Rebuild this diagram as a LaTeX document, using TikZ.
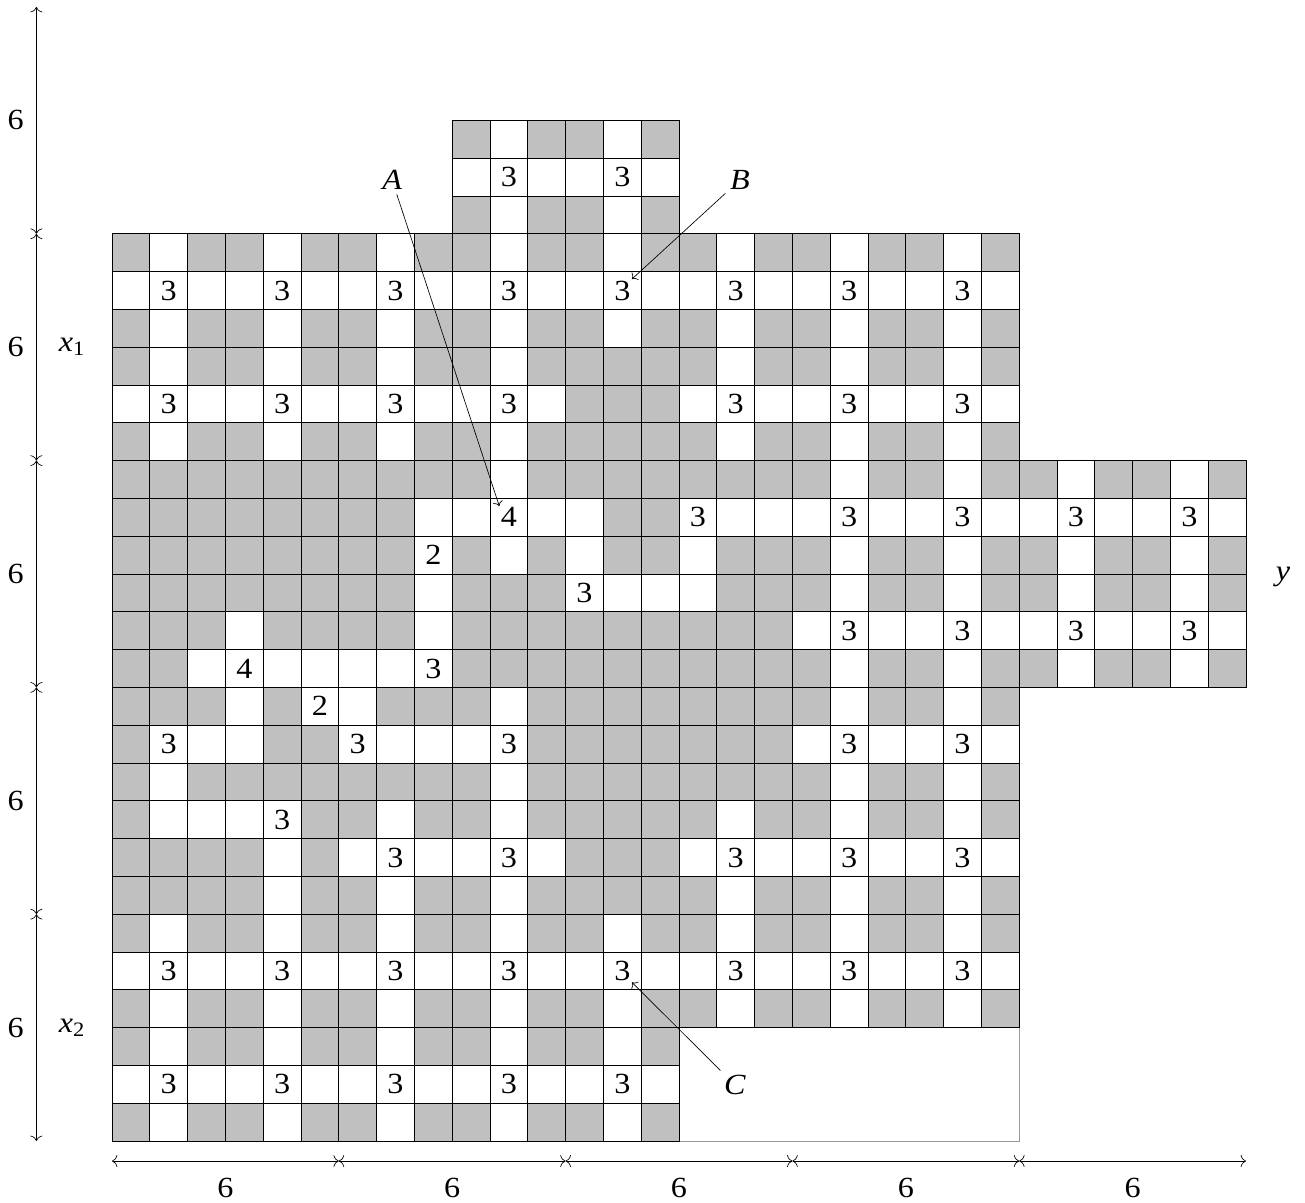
\documentclass[tikz,border=0pt]{standalone}
\usepackage{fontspec}
\setmainfont{Liberation Serif}[FakeStretch=1.1]
\usetikzlibrary{arrows.meta}
\definecolor{cellgray}{RGB}{192,192,192}
\begin{document}
\begin{tikzpicture}[x=1cm,y=1cm,
  wcell/.style={draw=black,line width=0.7pt},
  num/.style={inner sep=1pt,font=\fontsize{22}{26}\selectfont},
  lbl/.style={font=\fontsize{22}{26}\selectfont\itshape},
  dimtxt/.style={inner sep=0pt,font=\fontsize{22}{26}\selectfont},
  dimline/.style={{To[length=4pt,width=9pt]}-{To[length=4pt,width=9pt]},line width=0.5pt},
  ptr/.style={-{To[length=3.5pt,width=7.5pt]},line width=0.5pt}]
\useasboundingbox (-2.963,-1.614) rectangle (31.561,30.185);
\def\gridrows{%
0/{-,-,-,-,-,-,-,-,-,G,W,G,G,W,G},%
1/{-,-,-,-,-,-,-,-,-,W,3,W,W,3,W},%
2/{-,-,-,-,-,-,-,-,-,G,W,G,G,W,G},%
3/{G,W,G,G,W,G,G,W,G,G,W,G,G,W,G,G,W,G,G,W,G,G,W,G},%
4/{W,3,W,W,3,W,W,3,W,W,3,W,W,3,W,W,3,W,W,3,W,W,3,W},%
5/{G,W,G,G,W,G,G,W,G,G,W,G,G,W,G,G,W,G,G,W,G,G,W,G},%
6/{G,W,G,G,W,G,G,W,G,G,W,G,G,G,G,G,W,G,G,W,G,G,W,G},%
7/{W,3,W,W,3,W,W,3,W,W,3,W,G,G,G,W,3,W,W,3,W,W,3,W},%
8/{G,W,G,G,W,G,G,W,G,G,W,G,G,G,G,G,W,G,G,W,G,G,W,G},%
9/{G,G,G,G,G,G,G,G,G,G,W,G,G,G,G,G,G,G,G,W,G,G,W,G,G,W,G,G,W,G},%
10/{G,G,G,G,G,G,G,G,W,W,4,W,W,G,G,3,W,W,W,3,W,W,3,W,W,3,W,W,3,W},%
11/{G,G,G,G,G,G,G,G,2,G,W,G,W,G,G,W,G,G,G,W,G,G,W,G,G,W,G,G,W,G},%
12/{G,G,G,G,G,G,G,G,W,G,G,G,3,W,W,W,G,G,G,W,G,G,W,G,G,W,G,G,W,G},%
13/{G,G,G,W,G,G,G,G,W,G,G,G,G,G,G,G,G,G,W,3,W,W,3,W,W,3,W,W,3,W},%
14/{G,G,W,4,W,W,W,W,3,G,G,G,G,G,G,G,G,G,G,W,G,G,W,G,G,W,G,G,W,G},%
15/{G,G,G,W,G,2,W,G,G,G,W,G,G,G,G,G,G,G,G,W,G,G,W,G},%
16/{G,3,W,W,G,G,3,W,W,W,3,G,G,G,G,G,G,G,W,3,W,W,3,W},%
17/{G,W,G,G,G,G,G,G,G,G,W,G,G,G,G,G,G,G,G,W,G,G,W,G},%
18/{G,W,W,W,3,G,G,W,G,G,W,G,G,G,G,G,W,G,G,W,G,G,W,G},%
19/{G,G,G,G,W,G,W,3,W,W,3,W,G,G,G,W,3,W,W,3,W,W,3,W},%
20/{G,G,G,G,W,G,G,W,G,G,W,G,G,G,G,G,W,G,G,W,G,G,W,G},%
21/{G,W,G,G,W,G,G,W,G,G,W,G,G,W,G,G,W,G,G,W,G,G,W,G},%
22/{W,3,W,W,3,W,W,3,W,W,3,W,W,3,W,W,3,W,W,3,W,W,3,W},%
23/{G,W,G,G,W,G,G,W,G,G,W,G,G,W,G,G,W,G,G,W,G,G,W,G},%
24/{G,W,G,G,W,G,G,W,G,G,W,G,G,W,G},%
25/{W,3,W,W,3,W,W,3,W,W,3,W,W,3,W},%
26/{G,W,G,G,W,G,G,W,G,G,W,G,G,W,G}}
% gray fills
\foreach \k/\row in \gridrows {
  \pgfmathtruncatemacro\yy{26-\k}
  \foreach \v [count=\ci from 0] in \row {
    \if\v G\fill[cellgray] (\ci,\yy) rectangle ++(1,1);\fi
  }
}
% the empty corner outline
\draw[black!40,line width=0.5pt] (15,0) -- (24,0) -- (24,3);
% cell borders and numbers
\foreach \k/\row in \gridrows {
  \pgfmathtruncatemacro\yy{26-\k}
  \foreach \v [count=\ci from 0] in \row {
    \if\v-\else
      \draw[wcell] (\ci,\yy) rectangle ++(1,1);
      \if\v G\else\if\v W\else
        \node[num] (n\k-\ci) at (\ci+0.5,\yy+0.5) {\v};
      \fi\fi
    \fi
  }
}
% vertical dimension axis
\foreach \i in {0,...,5} \coordinate (v\i) at (-2,6*\i);
\foreach \i [evaluate=\i as \j using int(\i+1)] in {0,...,4} {
  \draw[dimline] (v\i) -- (v\j);
  \node[dimtxt] (vl\i) at (-2.55,6*\i+3) {6};
}
% horizontal dimension axis
\foreach \i in {0,...,5} \coordinate (h\i) at (6*\i,-0.53);
\foreach \i [evaluate=\i as \j using int(\i+1)] in {0,...,4} {
  \draw[dimline] (h\i) -- (h\j);
  \node[dimtxt] (hl\i) at (6*\i+3,-1.24) {6};
}
% variable and clause labels
\node[dimtxt] (x1) at (-1.06,21) {\textit{x}\textsubscript{1}};
\node[dimtxt] (x2) at (-1.06,3) {\textit{x}\textsubscript{2}};
\node[lbl] (y) at (30.98,14.92) {y};
% pointers
\node[lbl] (A) at (7.41,25.42) {A};
\node[lbl] (B) at (16.61,25.42) {B};
\node[lbl] (C) at (16.48,1.48) {C};
\draw[ptr] (A) -- (n10-10.north west);
\draw[ptr] (B) -- (n4-13.north east);
\draw[ptr] (C) -- (n22-13.south east);
\end{tikzpicture}
\end{document}
